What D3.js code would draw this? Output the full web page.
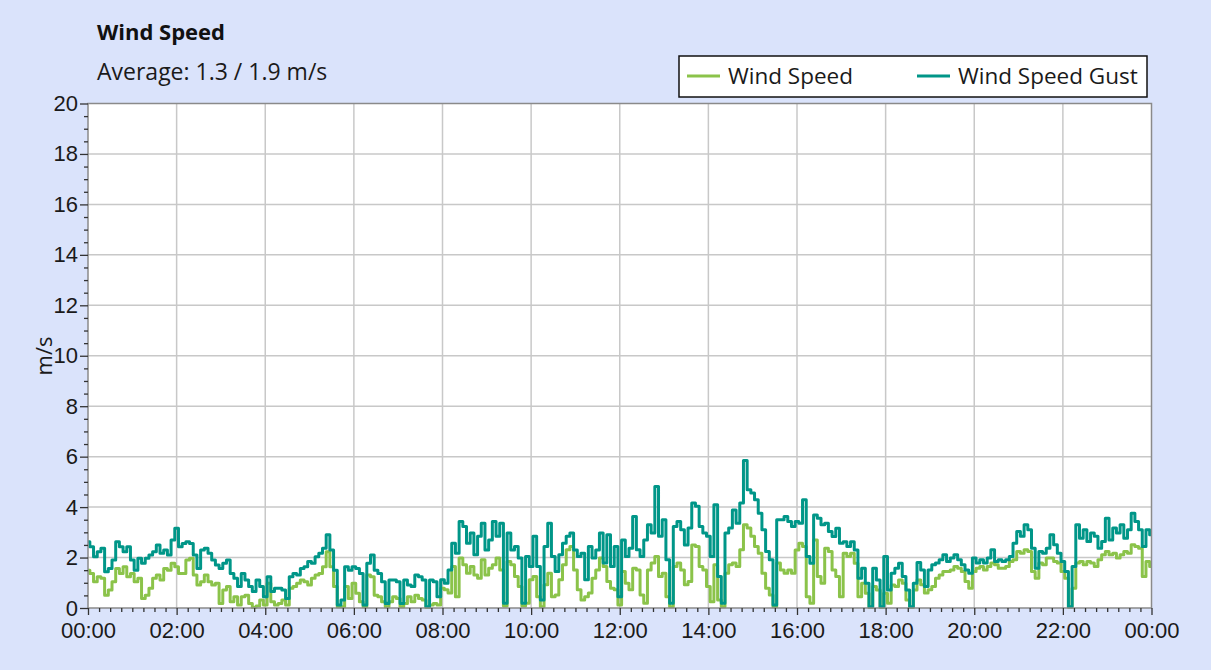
<!DOCTYPE html>
<meta charset="utf-8">
<style>
body { margin: 0; background: #dae3fb; }
svg { display: block; font-family: "Open Sans", sans-serif; }
.grid line { stroke: #c8c8c8; stroke-width: 1.5px; }
.line { fill: none; stroke-width: 3px; stroke-linejoin: round; }
.axis text { font-size: 22px; fill: #1a1a1a; }
.axis line { stroke: #333; stroke-width: 1.3px; }
.axis path { display: none; }
</style>
<script src="https://d3js.org/d3.v7.min.js"></script>
<body>
<div id="chart"></div>
</body>
<script>

// 5 minute samples (00:00 .. 24:00)
var stepMinutes = 5;

var windSpeed = [
  1.5,1.37,1.04,1.24,1.18,0.51,0.71,1.04,1.57,1.37,1.64,1.24,
  1.37,1.04,1.18,0.38,0.51,0.78,1.18,1.31,1.11,1.57,1.5,1.77,
  1.64,1.37,1.37,1.9,1.97,1.31,0.91,1.04,1.31,1.04,0.91,0.98,
  0.18,0.71,0.85,0.25,0.45,0.12,0.45,0.51,0.18,0.02,0.08,0.32,
  0.12,0.98,0.25,0.12,0.18,0.32,0.12,0.78,0.85,0.98,1.11,1.04,
  0.91,1.18,1.31,1.37,1.64,2.23,1.64,0.85,0.05,0.05,0.85,0.38,
  0.98,0.58,0.25,0.05,1.31,1.24,0.51,0.45,0.25,0.05,0.25,0.45,
  0.38,0.05,0.18,0.45,0.25,0.51,0.38,0.32,0.02,0.12,0.18,0.12,
  0.78,0.72,0.59,1.65,0.45,1.98,1.71,1.38,1.65,1.31,1.18,1.91,
  1.31,1.58,1.71,1.98,1.51,0.08,1.84,1.71,1.25,0.85,0.08,0.19,
  1.12,1.25,0.45,0.05,0.92,1.38,0.45,0.52,1.12,1.71,2.31,2.44,
  1.51,0.72,0.32,0.45,0.59,1.18,1.51,1.98,1.65,1.05,0.78,0.72,
  0.12,1.45,0.98,0.72,1.58,1.51,0.52,0.19,1.51,1.78,2.04,1.25,
  1.38,0.45,0.05,1.65,1.78,1.51,0.92,1.05,2.5,2.44,1.65,1.51,
  0.85,0.25,1.71,0.32,0.05,1.38,1.71,1.78,1.65,2.31,3.3,3.17,
  2.84,2.44,2.17,1.38,0.78,0.52,0.05,1.78,1.51,1.38,1.51,1.38,
  2.3,2.57,2.44,0.45,0.19,2.7,1.25,0.98,2.37,2.24,1.51,1.25,
  0.45,2.17,2.04,2.17,1.77,0.45,0.98,0.58,0.02,0.85,0.71,0.02,
  0.58,0.19,0.91,0.85,1.11,0.98,0.32,0.02,0.71,1.11,0.92,0.59,
  0.72,0.85,1.18,1.31,1.45,1.45,1.51,1.65,1.58,1.45,1.05,0.78,
  1.45,1.58,1.65,1.51,1.65,1.78,1.71,1.58,1.58,1.65,1.84,1.91,
  2.24,2.17,2.31,2.24,1.45,1.18,1.78,1.71,1.98,1.98,1.84,1.78,
  1.45,1.18,0.03,0.78,1.78,1.84,1.71,1.84,1.78,1.65,1.91,2.11,
  2.24,2.11,2.17,1.98,2.11,2.24,2.17,2.51,2.44,2.37,1.25,1.84,
  1.65
];

var windGust = [
  2.63,2.43,2.03,2.23,2.37,1.44,1.57,1.9,2.63,2.43,2.23,2.43,
  1.9,1.5,1.97,1.77,1.97,2.1,2.23,2.5,2.17,2.3,2.1,2.7,
  3.16,2.43,2.56,2.63,2.56,2.1,1.57,2.3,2.37,2.17,1.9,1.7,
  1.57,1.77,1.9,1.37,1.18,0.85,1.37,1.11,0.85,0.65,1.11,0.85,
  0.45,1.24,0.65,0.78,0.78,0.71,0.38,1.24,1.37,1.31,1.57,1.64,
  1.84,1.77,2.03,2.17,2.37,2.9,2.3,1.5,0.12,0.32,1.64,1.5,
  1.64,1.57,1.37,0.12,1.77,2.1,1.5,1.37,1.04,0.18,1.11,1.11,
  1.04,0.18,1.11,0.91,0.85,1.31,1.24,1.11,0.05,1.11,1.04,0.45,
  1.12,0.98,1.51,2.57,2.17,3.43,3.23,2.57,2.97,2.11,2.84,3.36,
  2.3,2.7,3.43,2.84,3.36,0.19,2.97,2.3,2.44,1.98,0.19,2.04,
  1.65,2.84,1.65,0.32,2.44,3.36,2.04,1.45,2.11,2.57,2.84,2.97,
  2.3,2.04,2.17,1.12,2.44,1.98,2.3,2.97,1.78,2.9,1.65,2.44,
  0.45,2.7,2.04,2.37,3.63,2.31,2.04,2.7,3.3,2.97,4.82,2.84,
  3.5,1.91,0.19,3.23,3.43,3.1,2.5,3.17,4.16,4.03,3.23,2.97,
  2.84,2.04,4.09,1.25,0.19,2.97,3.17,3.89,3.36,4.16,5.85,4.69,
  4.56,4.29,3.76,3.1,2.24,1.91,0.12,3.5,3.5,3.63,3.43,3.23,
  3.43,3.36,4.29,2.04,1.77,3.69,3.56,3.3,3.36,3.03,2.83,3.16,
  2.57,2.63,2.44,2.63,2.3,1.18,1.58,0.98,0.05,1.58,1.11,0.05,
  2.04,0.71,1.38,1.58,1.77,1.25,0.71,0.05,0.98,1.8,1.51,0.85,
  1.51,1.71,1.78,1.91,2.11,1.84,1.98,2.11,1.91,1.71,1.51,1.38,
  1.98,1.78,1.91,1.78,1.98,2.31,1.84,1.91,1.84,1.91,2.04,2.57,
  3.03,2.84,3.3,3.1,2.37,1.58,2.24,2.17,2.37,2.9,2.51,2.17,
  1.84,1.45,0.05,1.65,3.3,2.77,3.1,2.64,2.97,2.84,2.37,2.64,
  3.56,2.7,3.17,2.97,3.3,2.77,3.1,3.76,3.43,3.1,2.44,3.1,
  2.9
];

var seriesNames = ["Wind Speed", "Wind Speed Gust"];
var seriesColors = ["#8bc34a", "#009688"];

var xTickLabels = ["00:00","02:00","04:00","06:00","08:00","10:00","12:00",
                   "14:00","16:00","18:00","20:00","22:00","00:00"];
var yTicks = [0, 2, 4, 6, 8, 10, 12, 14, 16, 18, 20];

var titleText = "Wind Speed";
var subtitleText = "Average: 1.3 / 1.9 m/s";
var yTitle = "m/s";

// dimensions
var W = 1211, H = 670;
var margin = {top: 103.5, left: 88, right: 59.5, bottom: 62};
var width = W - margin.left - margin.right,
    height = H - margin.top - margin.bottom;

var svg = d3.select("#chart").append("svg")
    .attr("width", W)
    .attr("height", H);

svg.append("rect")
    .attr("width", W).attr("height", H)
    .attr("fill", "#dae3fb");

// title + subtitle
svg.append("text")
    .attr("x", 97).attr("y", 40)
    .style("font-size", "22px")
    .style("font-weight", "bold")
    .attr("fill", "#111")
    .text(titleText);

svg.append("text")
    .attr("x", 97).attr("y", 80)
    .style("font-size", "23px")
    .attr("fill", "#1a1a1a")
    .text(subtitleText);

var g = svg.append("g")
    .attr("transform", "translate(" + margin.left + "," + margin.top + ")");

// scales
var x = d3.scaleLinear().domain([0, 1440]).range([0, width]);
var y = d3.scaleLinear().domain([0, 20]).range([height, 0]);

var majorTimes = xTickLabels.map(function(d, i) { return i * 120; });

// plot background
g.append("rect")
    .attr("width", width).attr("height", height)
    .attr("fill", "#fff");

// grid
var grid = g.append("g").attr("class", "grid");
grid.selectAll(".vx")
    .data(majorTimes.slice(1, -1))
  .enter().append("line")
    .attr("x1", function(d) { return x(d); })
    .attr("x2", function(d) { return x(d); })
    .attr("y1", 0).attr("y2", height);
grid.selectAll(".hy")
    .data(yTicks.slice(1, -1))
  .enter().append("line")
    .attr("y1", function(d) { return y(d); })
    .attr("y2", function(d) { return y(d); })
    .attr("x1", 0).attr("x2", width);

// lines (stepped, the source logs readings as held values)
var lineFor = function(values) {
  return d3.line()
      .curve(d3.curveStep)
      .x(function(d, i) { return x(i * stepMinutes); })
      .y(function(d) { return y(d); })(values);
};

g.append("path")
    .attr("class", "line")
    .style("stroke", seriesColors[0])
    .attr("d", lineFor(windSpeed));

g.append("path")
    .attr("class", "line")
    .style("stroke", seriesColors[1])
    .attr("d", lineFor(windGust));

// frame
g.append("rect")
    .attr("width", width).attr("height", height)
    .attr("fill", "none")
    .attr("stroke", "#8a8a8a")
    .attr("stroke-width", 1.5);

// x axis
g.append("g")
    .attr("class", "axis")
    .attr("transform", "translate(0," + height + ")")
    .call(d3.axisBottom(x)
        .tickValues(d3.range(0, 1441, 15).filter(function(d) { return d % 120; }))
        .tickSize(4).tickFormat(""));

g.append("g")
    .attr("class", "axis")
    .attr("transform", "translate(0," + height + ")")
    .call(d3.axisBottom(x)
        .tickValues(majorTimes)
        .tickSize(7).tickPadding(7)
        .tickFormat(function(d, i) { return xTickLabels[i]; }));

// y axis
g.append("g")
    .attr("class", "axis")
    .call(d3.axisLeft(y)
        .tickValues(d3.range(0, 20.01, 0.5).filter(function(d) { return d % 2; }))
        .tickSize(4).tickFormat(""));

g.append("g")
    .attr("class", "axis")
    .call(d3.axisLeft(y)
        .tickValues(yTicks)
        .tickSize(8).tickPadding(2));

svg.append("text")
    .attr("transform", "translate(52,356) rotate(-90)")
    .attr("text-anchor", "middle")
    .style("font-size", "22px")
    .attr("fill", "#1a1a1a")
    .text(yTitle);

// legend
var legend = svg.append("g");
legend.append("rect")
    .attr("x", 679).attr("y", 56)
    .attr("width", 468).attr("height", 41)
    .attr("fill", "#fff")
    .attr("stroke", "#111")
    .attr("stroke-width", 1.5);

var legendX = [687, 917];
seriesNames.forEach(function(name, i) {
  legend.append("line")
      .attr("x1", legendX[i]).attr("x2", legendX[i] + 33)
      .attr("y1", 76).attr("y2", 76)
      .attr("stroke", seriesColors[i])
      .attr("stroke-width", 3);
  legend.append("text")
      .attr("x", legendX[i] + 41).attr("y", 84)
      .style("font-size", "22.5px")
      .attr("fill", "#1a1a1a")
      .text(name);
});

</script>
